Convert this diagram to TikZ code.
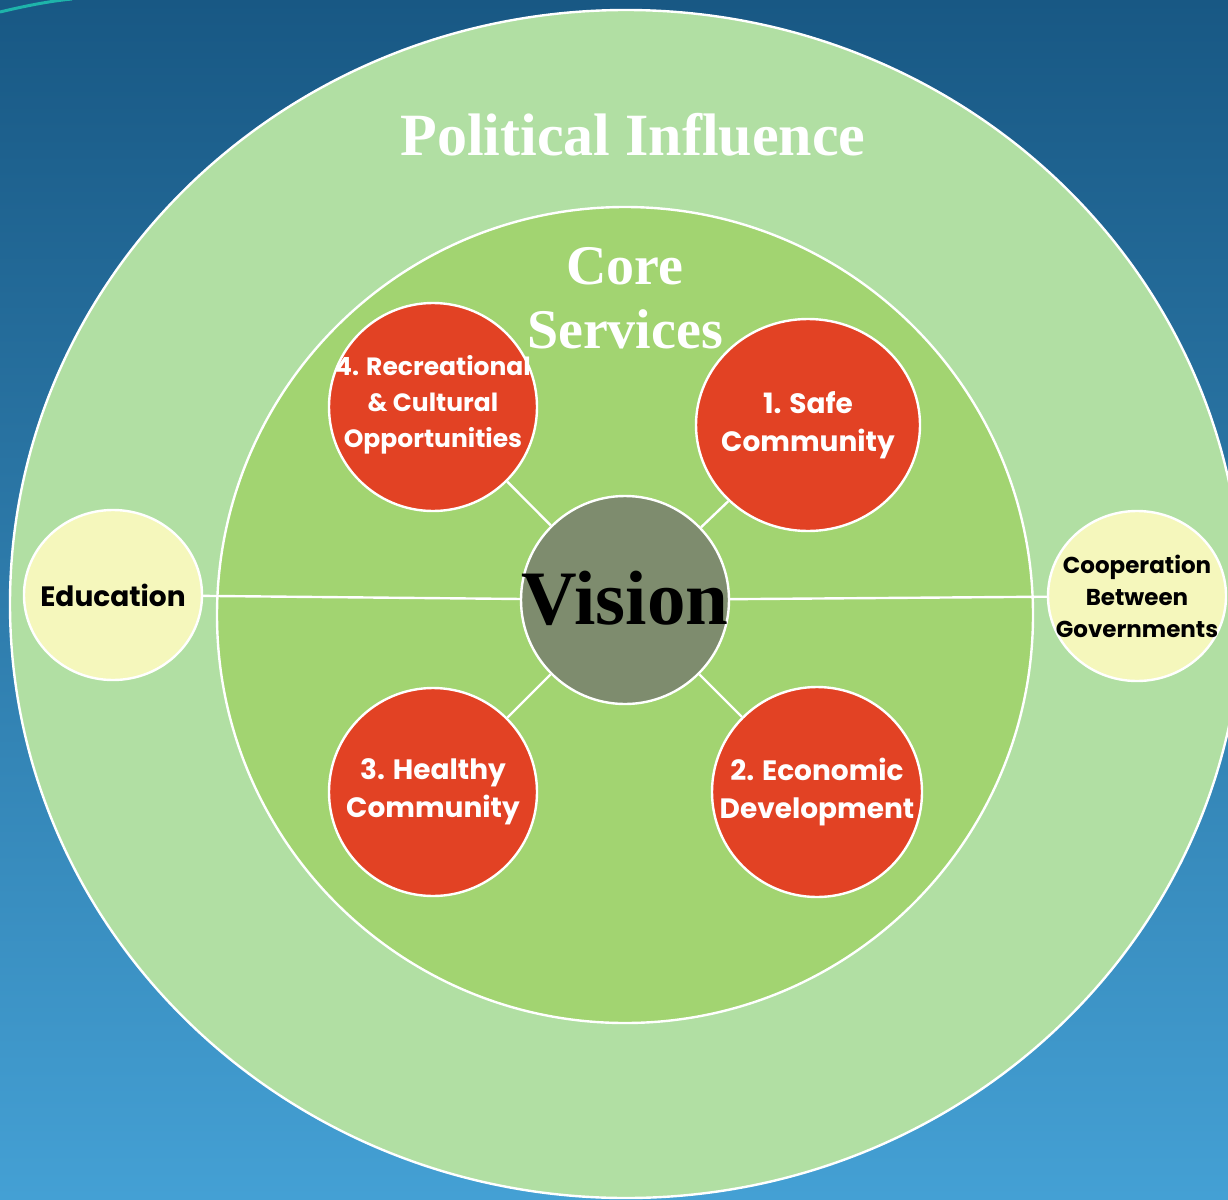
\documentclass[tikz,border=0pt]{standalone}
\usepackage{fontspec}
\setmainfont{Liberation Serif}
\newfontfamily\rndfont{Poppins}
\usetikzlibrary{shapes.geometric}
\definecolor{bgtop}{RGB}{24,88,132}
\definecolor{bgbot}{RGB}{68,160,212}
\definecolor{outergreen}{RGB}{177,223,163}
\definecolor{innergreen}{RGB}{162,212,113}
\definecolor{redfill}{RGB}{226,66,36}
\definecolor{visionfill}{RGB}{126,140,110}
\definecolor{paleyellow}{RGB}{245,247,188}
\definecolor{swooshcol}{RGB}{30,180,170}
\begin{document}
\begin{tikzpicture}[x=1pt,y=-1pt,
  ring/.style={draw=white,line width=2.4pt,ellipse,inner sep=0pt},
  redball/.style={ring,fill=redfill},
  sideball/.style={ring,fill=paleyellow},
  link/.style={draw=white,line width=2.4pt},
  redtxt/.style={text=white,font=\rndfont\bfseries\fontsize{28}{38}\selectfont,align=center,inner sep=0pt},
  sidetxt/.style={text=black,font=\rndfont\bfseries\fontsize{23}{32}\selectfont,align=center,inner sep=0pt},
  titletxt/.style={text=white,font=\bfseries\fontsize{60}{64}\selectfont,inner sep=0pt},
  coretxt/.style={text=white,font=\bfseries\fontsize{56}{64}\selectfont,align=center,inner sep=0pt},
  visiontxt/.style={text=black,font=\bfseries\fontsize{77}{80}\selectfont,inner sep=0pt}
]
\useasboundingbox (0,0) rectangle (1228,1199);
\clip (0,0) rectangle (1228,1199);
\shade[top color=bgtop,bottom color=bgbot] (0,0) rectangle (1228,1199);
\draw[swooshcol,line width=3pt] (0,12) .. controls (25,6) and (50,1) .. (72,-1);

% rings
\node[ring,fill=outergreen,minimum width=1232pt,minimum height=1188pt] (outer) at (626,604) {};
\node[ring,fill=innergreen,minimum size=816pt] (inner) at (625,615) {};

% circles
\node[ring,fill=visionfill,minimum size=208pt] (vision) at (625,600) {};
\node[redball,minimum size=208pt] (rec) at (433,407) {};
\node[redball,minimum width=224pt,minimum height=212pt] (safe) at (808,425) {};
\node[redball,minimum size=210pt] (econ) at (817,792) {};
\node[redball,minimum size=208pt] (health) at (433,792) {};
\node[sideball,minimum width=178pt,minimum height=170pt] (edu) at (113,595) {};
\node[sideball,minimum width=178pt,minimum height=170pt] (coop) at (1137,596) {};

% connectors
\draw[link] (edu) -- (vision);
\draw[link] (vision) -- (coop);
\draw[link] (vision) -- (rec);
\draw[link] (vision) -- (safe);
\draw[link] (vision) -- (econ);
\draw[link] (vision) -- (health);

% texts
\node[titletxt,anchor=base] (poltxt) at (633,155) {Political Influence};
\node[coretxt] (coretext) at (625,298) {Core\\Services};
\node[visiontxt,anchor=base] (vistxt) at (625,624) {Vision};
\node[redtxt,font=\rndfont\bfseries\fontsize{25}{36}\selectfont] (rectxt) at ([yshift=2pt]rec.center) {4. Recreational\\\& Cultural\\Opportunities};
\node[redtxt] (safetxt) at (safe.center) {1. Safe\\Community};
\node[redtxt] (econtxt) at (econ.center) {2. Economic\\Development};
\node[redtxt] (healthtxt) at (health.center) {3. Healthy\\Community};
\node[sidetxt,font=\rndfont\bfseries\fontsize{28}{36}\selectfont] (edutxt) at (edu.center) {Education};
\node[sidetxt] (cooptxt) at (coop.center) {Cooperation\\Between\\Governments};
\end{tikzpicture}
\end{document}
